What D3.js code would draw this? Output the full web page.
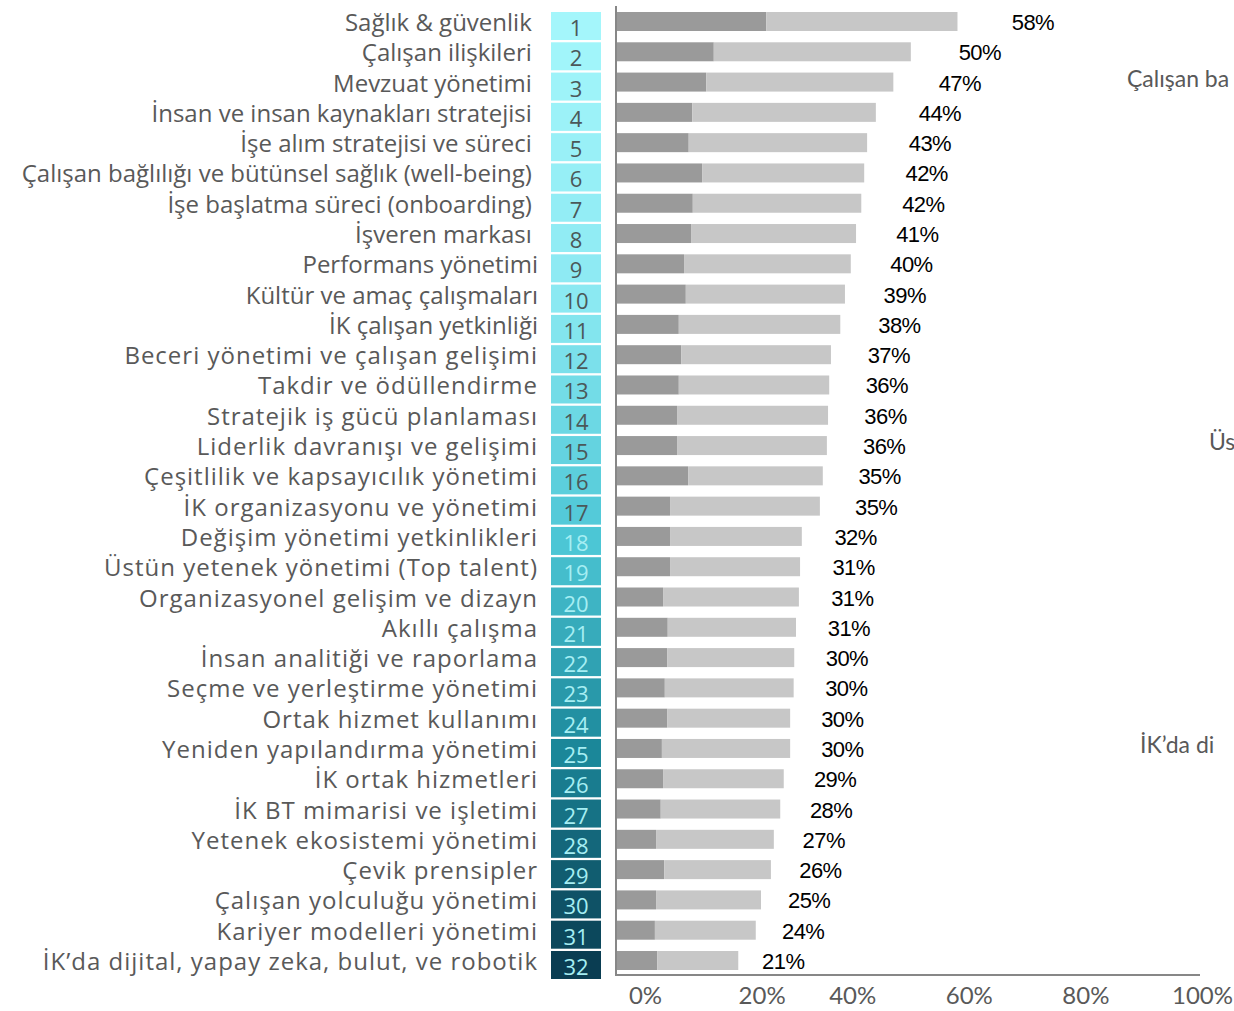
<!DOCTYPE html>
<html>
<head>
<meta charset="utf-8">
<script src="https://cdn.jsdelivr.net/npm/d3@7"></script>
<style>
  body { margin: 0; background: #fff; }
</style>
</head>
<body>
<svg id="canvas"></svg>
<script>
// areas, in rank order (1..32)
const areas = [
    "Sağlık & güvenlik ", "Çalışan ilişkileri ", "Mevzuat yönetimi ",
    "İnsan ve insan kaynakları stratejisi ", "İşe alım stratejisi ve süreci ",
    "Çalışan bağlılığı ve bütünsel sağlık (well-being) ", "İşe başlatma süreci (onboarding) ",
    "İşveren markası ", "Performans yönetimi", "Kültür ve amaç çalışmaları",
    "İK çalışan yetkinliği", "Beceri yönetimi ve çalışan gelişimi", "Takdir ve ödüllendirme",
    "Stratejik iş gücü planlaması", "Liderlik davranışı ve gelişimi",
    "Çeşitlilik ve kapsayıcılık yönetimi", "İK organizasyonu ve yönetimi",
    "Değişim yönetimi yetkinlikleri", "Üstün yetenek yönetimi (Top talent)",
    "Organizasyonel gelişim ve dizayn", "Akıllı çalışma", "İnsan analitiği ve raporlama",
    "Seçme ve yerleştirme yönetimi", "Ortak hizmet kullanımı", "Yeniden yapılandırma yönetimi",
    "İK ortak hizmetleri", "İK BT mimarisi ve işletimi", "Yetenek ekosistemi yönetimi",
    "Çevik prensipler", "Çalışan yolculuğu yönetimi", "Kariyer modelleri yönetimi",
    "İK’da dijital, yapay zeka, bulut, ve robotik"
];

const ranks = d3.range(1, 33);

// total share per area (whole bar)
const totals = [
    0.584, 0.504, 0.474, 0.444, 0.429, 0.424, 0.419, 0.410,
    0.401, 0.391, 0.383, 0.367, 0.364, 0.362, 0.360, 0.353,
    0.348, 0.317, 0.314, 0.312, 0.307, 0.304, 0.303, 0.297,
    0.297, 0.286, 0.280, 0.269, 0.264, 0.247, 0.238, 0.208
];

// darker first part of each bar
const firstPart = [
    0.256, 0.166, 0.153, 0.129, 0.123, 0.146, 0.130, 0.127,
    0.115, 0.118, 0.106, 0.110, 0.106, 0.103, 0.103, 0.122,
    0.091, 0.091, 0.091, 0.079, 0.087, 0.086, 0.082, 0.086,
    0.077, 0.079, 0.075, 0.067, 0.081, 0.067, 0.065, 0.069
];

const xTicks = [0, 0.2, 0.4, 0.6, 0.8, 1];

// titles cut by the right edge (only the visible part)
const sideTitles = ["Çalışan ba", "Üs", "İK’da di"];
const sideTitleRows = [3, 15, 25];

const data = ranks.map((r, i) => ({
    rank: r,
    area: areas[i],
    total: totals[i],
    first: firstPart[i]
}));

const createChart = () => {
    const width = 1234;
    const height = 1011;
    const labelFont = "'Open Sans', sans-serif";
    const tickFont = "Lato, sans-serif";

    const svg = d3.select("#canvas")
        .attr("width", width)
        .attr("height", height)
        .style("display", "block");

    const x = d3.scaleLinear()
        .domain([0, 1])
        .range([617, 1200]);

    // value labels sit on a wider scale than the bars
    const xLabel = d3.scaleLinear()
        .domain([0, 1])
        .range([624, 1288]);

    const y = d3.scaleBand()
        .domain(ranks)
        .range([12, 12 + 32 * 30.29])
        .padding(0);

    const boxColor = d3.scaleLinear()
        .domain([1, 10, 18, 25, 32])
        .range(["#a4f6fb", "#8be9f2", "#4cc6d5", "#1b8799", "#0a3d52"]);

    // bars: darker part then lighter remainder
    const rows = svg.append("g")
        .selectAll("g")
        .data(data)
        .enter()
        .append("g");

    rows.append("rect")
        .attr("x", d => x(0))
        .attr("y", d => y(d.rank))
        .attr("width", d => x(d.first) - x(0))
        .attr("height", 19)
        .style("fill", "#9a9a9a");

    rows.append("rect")
        .attr("x", d => x(d.first))
        .attr("y", d => y(d.rank))
        .attr("width", d => x(d.total) - x(d.first))
        .attr("height", 19)
        .style("fill", "#c7c7c7");

    rows.append("text")
        .attr("x", d => xLabel(d.total))
        .attr("y", d => y(d.rank) + 18)
        .style("font-family", "'Liberation Sans', Arial, sans-serif")
        .style("font-size", "22px")
        .style("letter-spacing", "-0.6px")
        .style("fill", "#000")
        .text(d => d3.format(".0%")(d.total));

    // rank boxes
    rows.append("rect")
        .attr("x", 551)
        .attr("y", d => y(d.rank))
        .attr("width", 50)
        .attr("height", 28)
        .style("fill", d => boxColor(d.rank));

    rows.append("text")
        .attr("x", 576)
        .attr("y", d => y(d.rank) + 24)
        .attr("text-anchor", "middle")
        .style("font-family", labelFont)
        .style("font-size", "22px")
        .style("fill", d => d.rank <= 17 ? "#4b5859" : "#a6eef3")
        .text(d => d.rank);

    // area names (lower half set a little wider)
    rows.append("text")
        .attr("x", 538)
        .attr("y", d => y(d.rank) + 19)
        .attr("text-anchor", "end")
        .style("white-space", "pre")
        .style("font-family", labelFont)
        .style("font-size", "24px")
        .style("letter-spacing", d => d.rank >= 12 ? "1px" : "0px")
        .style("fill", "#595959")
        .text(d => d.area);

    // axes
    svg.append("line")
        .attr("x1", x(0) - 1)
        .attr("x2", x(0) - 1)
        .attr("y1", 6)
        .attr("y2", 975)
        .style("stroke", "#878787")
        .style("stroke-width", 2);

    const xAxis = svg.append("g")
        .attr("transform", "translate(0,975)")
        .call(d3.axisBottom(x)
            .tickValues(xTicks)
            .tickSize(0)
            .tickPadding(12)
            .tickFormat(d3.format(".0%")));

    xAxis.select(".domain")
        .attr("d", "M" + (x(0) - 2) + ",0H" + x(1))
        .style("stroke", "#878787")
        .style("stroke-width", 2);

    xAxis.selectAll("text")
        .attr("dx", (d, i) => i < 2 ? 28 : 2)
        .style("font-family", tickFont)
        .style("font-size", "24px")
        .style("fill", "#595959");

    svg.append("g")
        .selectAll("text")
        .data(sideTitles)
        .enter()
        .append("text")
        .attr("x", (d, i) => [1127, 1209, 1140][i])
        .attr("y", (d, i) => y(sideTitleRows[i]) + 14)
        .style("font-family", tickFont)
        .style("font-size", "23px")
        .style("fill", "#595959")
        .text(d => d);
}

createChart()
</script>
</body>
</html>
